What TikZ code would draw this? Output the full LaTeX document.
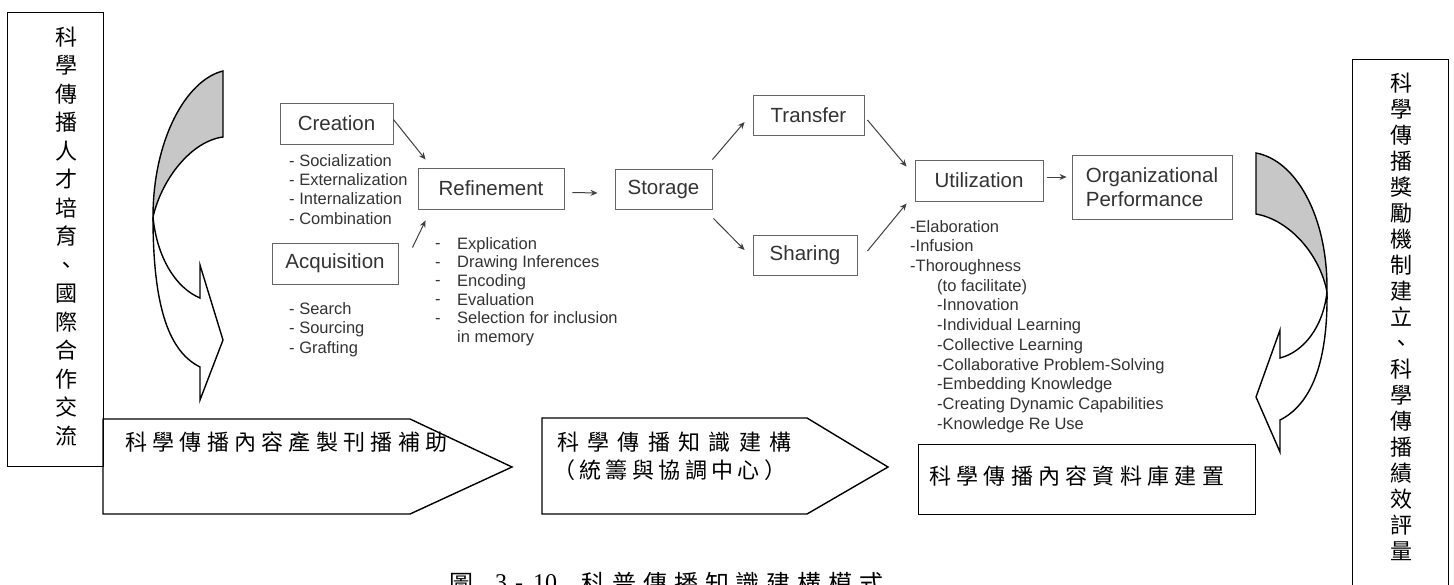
\documentclass[tikz,border=0pt]{standalone}
\usepackage{fontspec}
\setmainfont{Liberation Sans}
\newfontfamily\cjk{Noto Sans CJK TC}
\newfontfamily\cjkp[LetterSpace=24]{Noto Sans CJK TC}
\newfontfamily\cjkpa[LetterSpace=38]{Noto Sans CJK TC}
\newfontfamily\cjkpb[LetterSpace=20]{Noto Sans CJK TC}
\newfontfamily\cjkcap[LetterSpace=29]{Noto Sans CJK TC}
\newfontfamily\capnum{Liberation Serif}
\usetikzlibrary{arrows.meta}

\begin{document}
\begin{tikzpicture}[x=1pt,y=-1pt,
  box/.style={draw=black!60, line width=0.9pt, text=black!80, inner sep=0pt,
    font=\fontsize{20.5}{24.5}\selectfont},
  list/.style={anchor=north west, inner sep=0pt, align=left, text=black!80},
  arr/.style={draw=black!75, line width=1pt, -{Stealth[length=7pt,width=6pt]}},
  cjkline/.style={draw=black, line width=1.4pt, line join=miter},
  colbox/.style={draw=black, line width=1.4pt, inner sep=0pt, anchor=north west},
  coltext/.style={align=center, inner sep=0pt},
  bandgrey/.style={cjkline, fill=black!22},
  bandwhite/.style={cjkline, fill=white}
]
\path[use as bounding box, fill=white] (0,0) rectangle (1454,584);
\clip (0,0) rectangle (1454,584);

% ---------- side columns ----------
\node[colbox, minimum width=96, minimum height=454] (lbox) at (7,12) {};
\node[coltext, font=\cjk\fontsize{22}{28.5}\selectfont] (ltxt) at (66,236.5)
  {科\\學\\傳\\播\\人\\才\\培\\育\\、\\國\\際\\合\\作\\交\\流};

\node[colbox, minimum width=96, minimum height=560] (rbox) at (1352,59) {};
\node[coltext, font=\cjk\fontsize{22}{26}\selectfont] (rtxt) at (1401,317)
  {科\\學\\傳\\播\\獎\\勵\\機\\制\\建\\立\\、\\科\\學\\傳\\播\\績\\效\\評\\量};

% ---------- curved band arrows ----------
\draw[bandgrey] (223,71) -- (223,137) .. controls (192,141) and (162,178) .. (153,217)
  .. controls (153,140) and (186,80) .. (223,71) -- cycle;
\draw[bandwhite] (153,217) .. controls (157,258) and (176,288) .. (200,298)
  -- (200,265) -- (223,340) -- (200,400) -- (200,367)
  .. controls (170,352) and (153,310) .. (153,217) -- cycle;

\draw[bandgrey] (1256,153) -- (1256,214) .. controls (1290,220) and (1320,255) .. (1327,292)
  .. controls (1328,215) and (1295,160) .. (1256,153) -- cycle;
\draw[bandwhite] (1327,292) .. controls (1323,328) and (1303,352) .. (1280,358)
  -- (1280,330) -- (1256,397) -- (1280,452) -- (1280,420)
  .. controls (1310,405) and (1328,365) .. (1327,292) -- cycle;

% ---------- bottom stages ----------
\draw[cjkline] (103,419) -- (410,419) -- (512,467) -- (410,514) -- (103,514) -- cycle;
\node[anchor=west, inner sep=0pt, font=\cjkp\fontsize{22}{26}\selectfont] (stage1) at (125,442)
  {科學傳播內容產製刊播補助};

\draw[cjkline] (542,418) -- (807,418) -- (888,467) -- (807,514) -- (542,514) -- cycle;
\node[anchor=west, inner sep=0pt, font=\cjkpa\fontsize{22}{26}\selectfont] (stage2a) at (557,442)
  {科學傳播知識建構};
\node[anchor=west, inner sep=0pt, font=\cjkpb\fontsize{22}{26}\selectfont] (stage2b) at (553,470)
  {（統籌與協調中心）};

\node[colbox, minimum width=337, minimum height=70] (stage3) at (918,444) {};
\node[anchor=west, inner sep=0pt, font=\cjkp\fontsize{22}{26}\selectfont] (stage3t) at (929,476)
  {科學傳播內容資料庫建置};

% ---------- knowledge process boxes ----------
\node[box, minimum width=113, minimum height=41] (cre) at (336.5,123.5) {Creation};
\node[box, minimum width=126, minimum height=41] (acq) at (335,263.5) {Acquisition};
\node[box, minimum width=146, minimum height=41] (ref) at (491,188.5) {Refinement};
\node[box, minimum width=97, minimum height=40] (sto) at (663.5,189) {Storage};
\node[box, minimum width=111, minimum height=40] (tra) at (808.5,115) {Transfer};
\node[box, minimum width=104, minimum height=40] (sha) at (805,255) {Sharing};
\node[box, minimum width=128, minimum height=41] (uti) at (979,180.5) {Utilization};
\node[box, minimum width=160, minimum height=64, align=left] (org) at (1152,187)
  {Organizational\\Performance};

% ---------- lists ----------
\node[list, font=\fontsize{16.5}{19.3}\selectfont] (crelist) at (289,154)
  {- Socialization\\- Externalization\\- Internalization\\- Combination};
\node[list, font=\fontsize{16.5}{19.5}\selectfont] (acqlist) at (289,302)
  {- Search\\- Sourcing\\- Grafting};
\node[list, font=\fontsize{16.5}{18.7}\selectfont] (refdash) at (435,237)
  {\vphantom{E}-\\-\\-\\-\\-};
\node[list, font=\fontsize{16.5}{18.7}\selectfont] (reflist) at (457,237)
  {Explication\\Drawing Inferences\\Encoding\\Evaluation\\Selection for inclusion\\in memory};
\node[list, font=\fontsize{16.5}{19.7}\selectfont] (utilist) at (910,220)
  {-Elaboration\\-Infusion\\-Thoroughness\\
   \hspace*{27pt}(to facilitate)\\
   \hspace*{27pt}-Innovation\\
   \hspace*{27pt}-Individual Learning\\
   \hspace*{27pt}-Collective Learning\\
   \hspace*{27pt}-Collaborative Problem-Solving\\
   \hspace*{27pt}-Embedding Knowledge\\
   \hspace*{27pt}-Creating Dynamic Capabilities\\
   \hspace*{27pt}-Knowledge Re Use};

% ---------- flow arrows ----------
\draw[arr] ([shift={(0,-4)}]cre.east) -- ([shift={(8,-8)}]ref.north west);
\draw[arr] ([shift={(14,5)}]acq.north east) -- ([shift={(8,11)}]ref.south west);
\draw[arr] ([shift={(8,4)}]ref.east) -- ([shift={(-17,4)}]sto.west);
\draw[arr] ([shift={(0,-9)}]sto.north east) -- ([shift={(-8,7)}]tra.west);
\draw[arr] ([shift={(1,9)}]sto.south east) -- ([shift={(-8,-5)}]sha.west);
\draw[arr] ([shift={(3,5)}]tra.east) -- ([shift={(-8,7)}]uti.north west);
\draw[arr] ([shift={(10,-4)}]sha.east) -- ([shift={(-8,2)}]uti.south west);
\draw[arr] ([shift={(4,-3.5)}]uti.east) -- ([shift={(-5,-10)}]org.west);

% ---------- caption ----------
\node[anchor=base west, inner sep=0pt, font=\cjk\fontsize{24}{24}\selectfont] (capfig) at (449,592) {圖};
\node[anchor=base west, inner sep=0pt, font=\capnum\fontsize{24}{24}\selectfont] (capno) at (495,590)
  {3\hspace{8pt}-\hspace{10pt}10};
\node[anchor=base west, inner sep=0pt, font=\cjkcap\fontsize{24}{24}\selectfont] (captxt) at (581,592)
  {科普傳播知識建構模式};
\end{tikzpicture}
\end{document}
